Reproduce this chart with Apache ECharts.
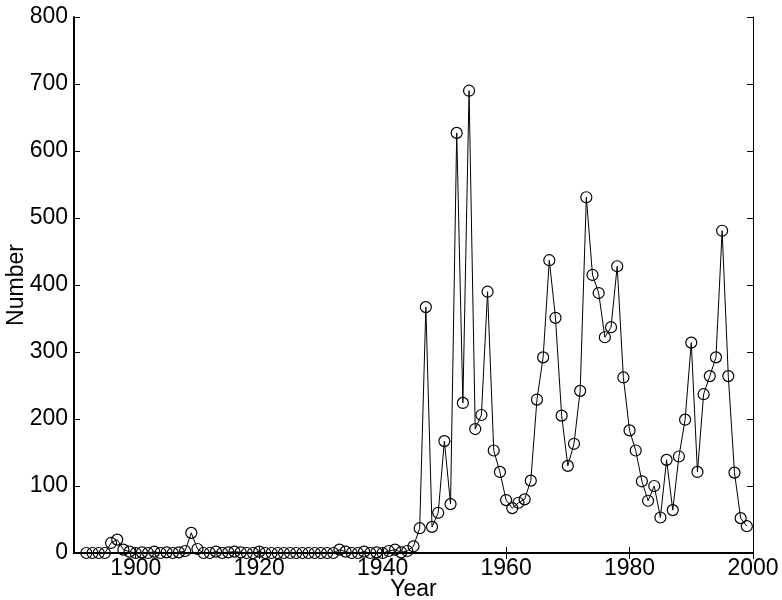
<!DOCTYPE html>
<html lang="en">
<head>
    <meta charset="UTF-8">
    <title>Number per Year</title>
    <script src="https://cdn.jsdelivr.net/npm/echarts@6/dist/echarts.min.js"></script>
</head>
<body style="margin:0;">
<div id="main" style="width: 782px;height:600px;"></div>
<script>
    var years = [
        1892, 1893, 1894, 1895, 1896, 1897, 1898, 1899,
        1900, 1901, 1902, 1903, 1904, 1905, 1906, 1907, 1908, 1909,
        1910, 1911, 1912, 1913, 1914, 1915, 1916, 1917, 1918, 1919,
        1920, 1921, 1922, 1923, 1924, 1925, 1926, 1927, 1928, 1929,
        1930, 1931, 1932, 1933, 1934, 1935, 1936, 1937, 1938, 1939,
        1940, 1941, 1942, 1943, 1944, 1945, 1946, 1947, 1948, 1949,
        1950, 1951, 1952, 1953, 1954, 1955, 1956, 1957, 1958, 1959,
        1960, 1961, 1962, 1963, 1964, 1965, 1966, 1967, 1968, 1969,
        1970, 1971, 1972, 1973, 1974, 1975, 1976, 1977, 1978, 1979,
        1980, 1981, 1982, 1983, 1984, 1985, 1986, 1987, 1988, 1989,
        1990, 1991, 1992, 1993, 1994, 1995, 1996, 1997, 1998, 1999
    ];
    var counts = [
        0, 0, 0, 0, 15, 20, 5, 2,
        0, 1, 0, 2, 0, 1, 0, 1, 3, 30,
        6, 0, 0, 2, 0, 1, 2, 1, 0, 0,
        2, 0, 0, 0, 0, 0, 0, 0, 0, 0,
        0, 0, 0, 5, 2, 0, 0, 2, 0, 1,
        0, 3, 5, 1, 3, 10, 37, 367, 39, 60,
        167, 73, 627, 224, 690, 185, 206, 390, 153, 121,
        79, 67, 75, 80, 108, 229, 292, 437, 351, 205,
        130, 163, 242, 531, 415, 388, 322, 337, 428, 262,
        183, 153, 107, 78, 100, 53, 139, 64, 144, 199,
        314, 121, 237, 264, 292, 481, 264, 120, 52, 40
    ];
    var xTicks = [1900, 1920, 1940, 1960, 1980, 2000];

    var myChart = echarts.init(document.getElementById('main'));
    var font = 'Liberation Sans, Arial, sans-serif';

    var points = [];
    for (var i = 0; i < years.length; i++) {
        points.push([years[i], counts[i]]);
    }

    var option = {
        animation: false,
        backgroundColor: '#fff',
        grid: { left: 74, right: 29, top: 17, bottom: 47, outerBoundsMode: 'none', containLabel: false },
        xAxis: [
            {
                type: 'value',
                min: 1890,
                max: 2000,
                interval: 10,
                name: 'Year',
                nameLocation: 'middle',
                nameGap: 25,
                nameMoveOverlap: false,
                nameTextStyle: { color: '#000', fontSize: 23, fontFamily: font },
                axisLine: { lineStyle: { color: '#000', width: 2 } },
                axisTick: { inside: true, length: 6, customValues: xTicks, lineStyle: { color: '#000' } },
                axisLabel: {
                    color: '#000', fontSize: 23, fontFamily: font, margin: 4, customValues: xTicks,
                    formatter: function (v) { return String(v); }
                },
                splitLine: { show: false }
            },
            {
                type: 'value',
                position: 'top',
                min: 1890,
                max: 2000,
                interval: 10,
                axisLine: { lineStyle: { color: '#000', width: 1 } },
                axisTick: { inside: true, length: 6, customValues: xTicks, lineStyle: { color: '#000' } },
                axisLabel: { show: false },
                splitLine: { show: false }
            }
        ],
        yAxis: [
            {
                type: 'value',
                min: 0,
                max: 800,
                interval: 100,
                name: 'Number',
                nameLocation: 'middle',
                nameGap: 46,
                nameMoveOverlap: false,
                nameTextStyle: { color: '#000', fontSize: 23, fontFamily: font },
                axisLine: { show: true, lineStyle: { color: '#000', width: 2 } },
                axisTick: { show: true, inside: true, length: 6, lineStyle: { color: '#000' } },
                axisLabel: { color: '#000', fontSize: 23, fontFamily: font, margin: 6 },
                splitLine: { show: false }
            },
            {
                type: 'value',
                position: 'right',
                min: 0,
                max: 800,
                interval: 100,
                axisLine: { show: true, lineStyle: { color: '#000', width: 1 } },
                axisTick: { show: true, inside: true, length: 6, lineStyle: { color: '#000' } },
                axisLabel: { show: false },
                splitLine: { show: false }
            }
        ],
        series: [
            {
                name: 'Number',
                type: 'line',
                data: points,
                symbol: 'circle',
                symbolSize: 11,
                showAllSymbol: true,
                lineStyle: { color: '#000', width: 1 },
                itemStyle: { color: 'transparent', borderColor: '#000', borderWidth: 1.2 }
            }
        ]
    };
    myChart.setOption(option);
</script>
</body>
</html>
